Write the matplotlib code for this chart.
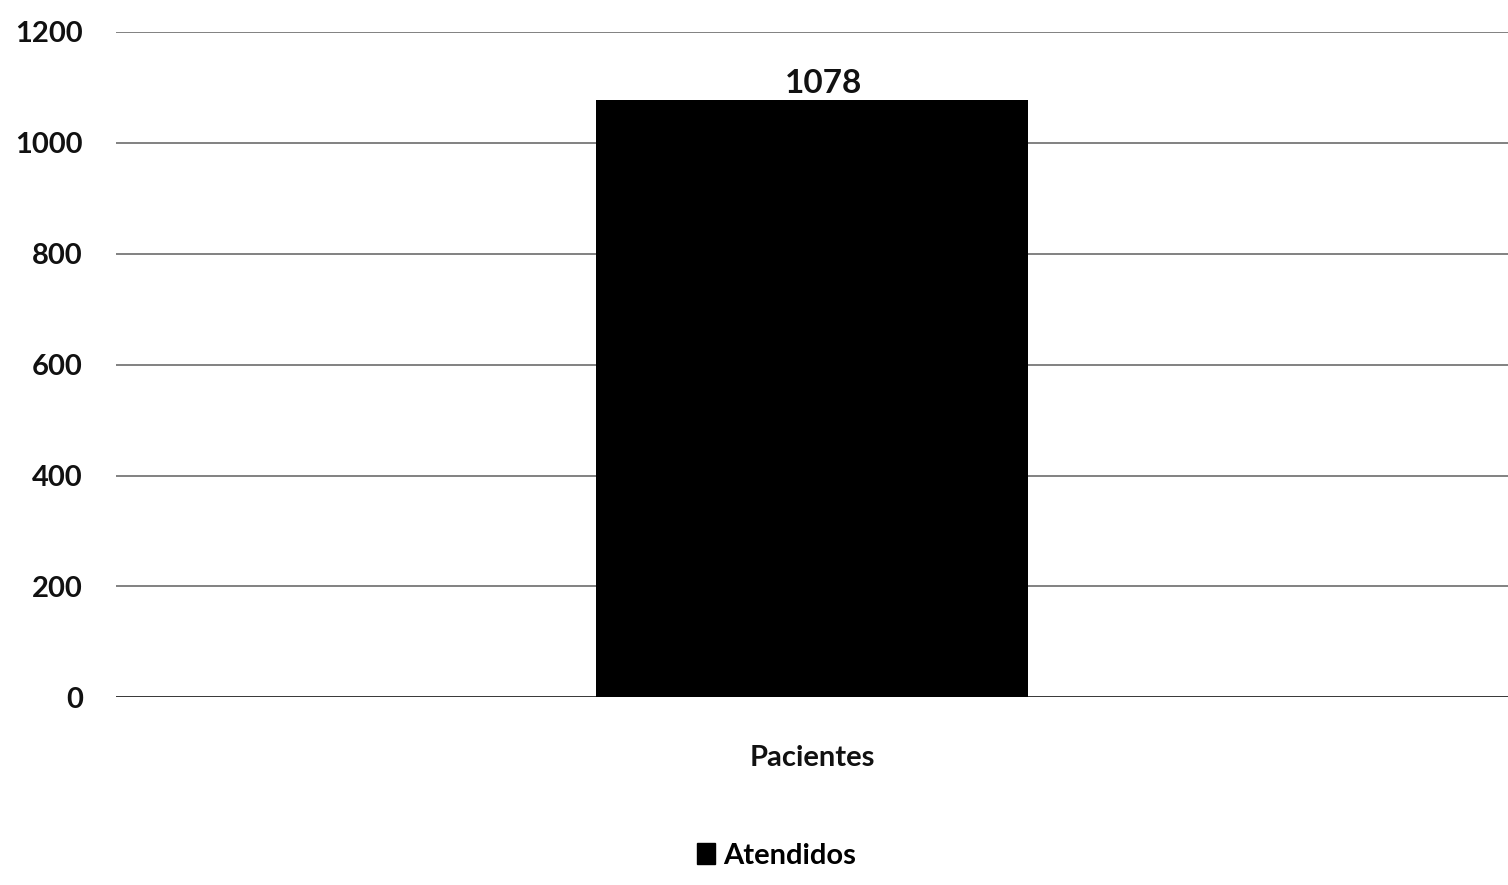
import matplotlib.pyplot as plt
from matplotlib.patches import Patch

categorias = ["Pacientes"]
atendidos = [1078]
yticks = [0, 200, 400, 600, 800, 1000, 1200]

plt.rcParams["font.family"] = ["Lato", "DejaVu Sans"]

fig = plt.figure(figsize=(15.08, 8.85), dpi=100)
ax = fig.add_axes([0.077, 0.212, 0.923, 0.752])

bars = ax.bar(categorias, atendidos, width=0.31, color="black", zorder=3,
              label="Atendidos")
for b, v in zip(bars, atendidos):
    ax.text(b.get_x() + b.get_width() / 2 + 0.008, v + 2, str(v), ha="center", va="bottom",
            fontsize=24, fontweight="bold", color="#111111")

ax.set_xlim(-0.5, 0.5)
ax.set_ylim(0, 1200)
ax.set_yticks(yticks)
ax.set_yticklabels([str(t) for t in yticks], fontsize=21, fontweight="bold", color="#111111")
ax.tick_params(axis="y", length=0, pad=24)
ax.tick_params(axis="x", length=0, pad=34, labelsize=21, labelcolor="#111111")
for lbl in ax.get_xticklabels():
    lbl.set_fontweight("bold")
ax.grid(axis="y", color="#777777", linewidth=1.3, zorder=0)
for s in ax.spines.values():
    s.set_visible(False)
ax.axhline(0, color="#333333", linewidth=2, zorder=2)

fig.legend(handles=[Patch(color="black", label="Atendidos")], loc="center",
           bbox_to_anchor=(0.515, 0.033), frameon=False,
           prop={"weight": "bold", "size": 21}, handlelength=0.6, handleheight=0.7,
           handletextpad=0.3)

fig.savefig("out.png", dpi=100)
